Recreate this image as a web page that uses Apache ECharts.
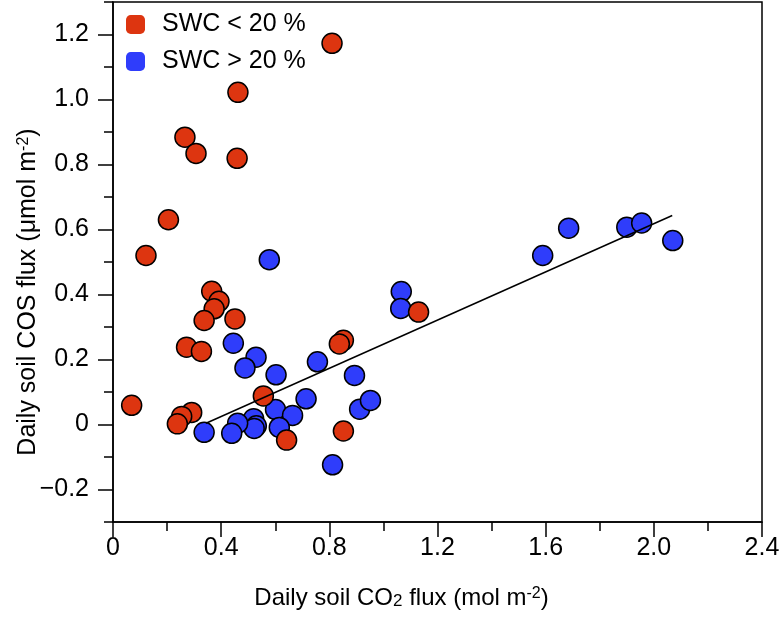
<!DOCTYPE html>
<html>
<head>
<meta charset="utf-8">
<script src="https://cdn.jsdelivr.net/npm/echarts@6/dist/echarts.min.js"></script>
<style>
html,body{margin:0;padding:0;background:#fff;}
#chart{width:783px;height:617px;}
</style>
</head>
<body>
<div id="chart"></div>
<script>
// ---- data ----
const seriesNames = ['SWC < 20 %', 'SWC > 20 %'];
const dryCO2 = [0.810, 0.462, 0.266, 0.307, 0.459, 0.205, 0.122, 0.365, 0.392, 0.374, 0.337, 0.451, 0.272, 0.327, 0.852, 0.837, 1.130, 0.556, 0.069, 0.291, 0.254, 0.238, 0.642, 0.852];
const dryCOS = [1.173, 1.022, 0.884, 0.834, 0.819, 0.630, 0.520, 0.410, 0.379, 0.356, 0.320, 0.325, 0.238, 0.225, 0.259, 0.248, 0.346, 0.088, 0.059, 0.037, 0.025, 0.002, -0.048, -0.020];
const wetCO2 = [0.578, 0.445, 0.529, 0.488, 0.603, 0.756, 0.893, 0.714, 0.601, 0.664, 0.520, 0.530, 0.522, 0.461, 0.439, 0.337, 0.615, 0.812, 1.066, 1.064, 0.912, 0.952, 1.589, 1.685, 1.900, 1.955, 2.070];
const wetCOS = [0.507, 0.250, 0.207, 0.174, 0.153, 0.193, 0.151, 0.079, 0.046, 0.028, 0.018, -0.004, -0.012, 0.004, -0.027, -0.024, -0.009, -0.124, 0.409, 0.357, 0.047, 0.074, 0.520, 0.604, 0.607, 0.620, 0.566];
const fitCO2 = [0.344, 2.068];
const fitCOS = [0.004, 0.643];
const xTicks = [0, 0.4, 0.8, 1.2, 1.6, 2.0, 2.4];
const yTicks = [-0.2, 0, 0.2, 0.4, 0.6, 0.8, 1.0, 1.2];
const yMinorTicks = [-0.3, -0.1, 0.1, 0.3, 0.5, 0.7, 0.9, 1.1, 1.3];

const zip = (a, b) => a.map((v, i) => [v, b[i]]);
const FONT = '"Liberation Sans", Arial, Helvetica, sans-serif';
const RED = '#DD3510';
const BLUE = '#2F3DFB';

function fmtX(v) { return Math.abs(v) < 1e-9 ? '0' : v.toFixed(1); }
function fmtY(v) { return Math.abs(v) < 1e-9 ? '0' : (v < 0 ? '\u2212' : '') + Math.abs(v).toFixed(1); }

const chart = echarts.init(document.getElementById('chart'), null, { renderer: 'canvas' });
function richName(size) {
  return {
    a: { fontSize: size, fontFamily: FONT, color: '#000' },
    sup: { fontSize: 16, fontFamily: FONT, color: '#000', verticalAlign: 'top', padding: [0, 0, 8, 0] },
    sub: { fontSize: 17, fontFamily: FONT, color: '#000', verticalAlign: 'bottom', padding: [6, 0, 0, 0] }
  };
}
const option = {
  animation: false,
  backgroundColor: '#fff',
  textStyle: { fontFamily: FONT },
  grid: { left: 113, top: 2, right: 21, bottom: 95, show: true, borderColor: '#000', borderWidth: 1.5, containLabel: false, outerBoundsMode: 'none' },
  legend: {
    data: seriesNames,
    orient: 'vertical',
    left: 126, top: 12, padding: 0,
    itemWidth: 19, itemHeight: 19, itemGap: 12,
    icon: 'roundRect',
    itemStyle: { borderWidth: 0 },
    textStyle: { fontSize: 25, fontFamily: FONT, color: '#000', padding: [0, 0, 0, 12] },
    selectedMode: false
  },
  xAxis: {
    type: 'value', min: 0, max: 2.4, interval: 0.4,
    splitLine: { show: false },
    axisLine: { show: true, onZero: false, lineStyle: { color: '#000', width: 1.5 } },
    axisTick: { show: true, length: 15, lineStyle: { color: '#000', width: 1.5 } },
    minorTick: { show: true, splitNumber: 2, length: 9, lineStyle: { color: '#000', width: 1.5 } },
    minorSplitLine: { show: false },
    axisLabel: { fontSize: 25, color: '#000', fontFamily: FONT, margin: 14, formatter: fmtX, customValues: xTicks },
    name: '{a|Daily soil CO}{sub|2}{a| flux (mol m}{sup|-2}{a|)}',
    nameLocation: 'middle', nameGap: 64, nameMoveOverlap: false,
    nameTextStyle: { rich: richName(24), padding: [0, 72, 0, 0] }
  },
  yAxis: [{
    type: 'value', min: -0.3, max: 1.3,
    splitLine: { show: false },
    axisLine: { show: true, onZero: false, lineStyle: { color: '#000', width: 1.5 } },
    axisTick: { show: true, length: 15, customValues: yTicks, lineStyle: { color: '#000', width: 1.5 } },
    axisLabel: { fontSize: 25, color: '#000', fontFamily: FONT, margin: 24, formatter: fmtY, customValues: yTicks },
    name: '{a|Daily soil COS flux (μmol m}{sup|-2}{a|)}',
    nameLocation: 'middle', nameGap: 72, nameRotate: 90, nameMoveOverlap: false,
    nameTextStyle: { rich: richName(25), padding: [0, 60, 0, 0] }
  }, {
    type: 'value', min: -0.3, max: 1.3, position: 'left',
    splitLine: { show: false },
    axisLine: { show: false, onZero: false },
    axisTick: { show: true, length: 9, customValues: yMinorTicks, lineStyle: { color: '#000', width: 1.5 } },
    axisLabel: { show: false }
  }],
  series: [{
    name: seriesNames[1], type: 'scatter', data: zip(wetCO2, wetCOS), symbolSize: 20, z: 2,
    itemStyle: { color: BLUE, borderColor: '#000', borderWidth: 1.5, opacity: 1 }
  }, {
    name: seriesNames[0], type: 'scatter', data: zip(dryCO2, dryCOS), symbolSize: 20, z: 3,
    itemStyle: { color: RED, borderColor: '#000', borderWidth: 1.5, opacity: 1 }
  }, {
    name: 'fit', type: 'line', data: zip(fitCO2, fitCOS), symbol: 'none', z: 4,
    lineStyle: { color: '#000', width: 1.5 }, silent: true
  }]
};
chart.setOption(option);
</script>
</body>
</html>
